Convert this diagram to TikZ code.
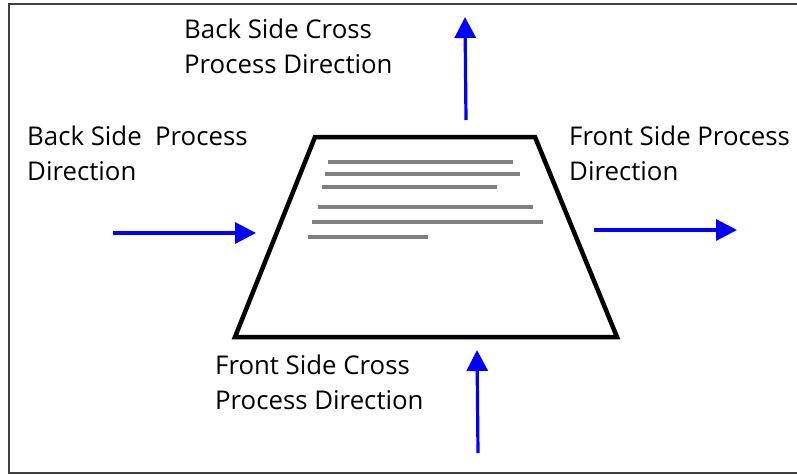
\documentclass[tikz,border=0pt]{standalone}
\usepackage{fontspec}
\setmainfont{Open Sans}
\usetikzlibrary{arrows.meta,positioning}

\tikzset{
  lbl/.style={anchor=north west,inner sep=0pt,align=left,font=\fontsize{25.8}{35}\selectfont},
  dir/.style={draw=blue,line width=3.2pt,-{Triangle[length=21pt,width=21pt]}},
  paper/.style={line width=4.5pt,line join=miter},
  txtline/.style={draw=gray,line width=4pt}
}

\begin{document}
\begin{tikzpicture}[x=1pt,y=-1pt]
\useasboundingbox (0,0) rectangle (797,474);
% outer frame (right side runs off the page)
\draw [line width=1.5pt,draw=black!75] (797,4) -- (9,4) -- (9,473) -- (797,473);

% sheet
\draw [paper] (315,137) -- (535,137) -- (617,337) -- (235,337) -- cycle;
\foreach \y/\xa/\xb in {162/328/513, 174/325/520, 187/322/497, 207/318/533, 222/312/543, 237/308/428}
  \draw [txtline] (\xa,\y) -- (\xb,\y);

% labels
\node [lbl] (bscross) at (184,19) {Back Side Cross\\Process Direction};
\node [lbl] (bsproc) at (27,126) {Back Side\ \ Process\\Direction};
\node [lbl] (fsproc) at (569,126) {Front Side Process\\Direction};
\node [lbl] (fscross) at (215,355) {Front Side Cross\\Process Direction};

% direction arrows
\coordinate (up0) at (466,120);
\coordinate (up1) at (465,17);
\coordinate (lt0) at (113,233);
\coordinate (lt1) at (256,233);
\coordinate (rt0) at (594,230);
\coordinate (rt1) at (737,230);
\coordinate (dn0) at (478,453);
\coordinate (dn1) at (477,350);
\draw [dir] (up0) -- (up1);
\draw [dir] (lt0) -- (lt1);
\draw [dir] (rt0) -- (rt1);
\draw [dir] (dn0) -- (dn1);
\end{tikzpicture}
\end{document}
